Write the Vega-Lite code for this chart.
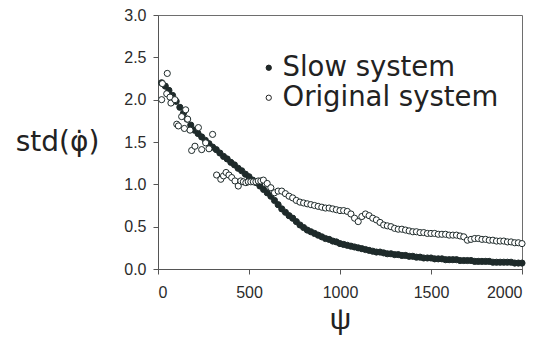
{
  "$schema": "https://vega.github.io/schema/vega-lite/v6.json",
  "autosize": "none",
  "width": 364,
  "height": 254,
  "padding": {"left": 158, "top": 15, "right": 20, "bottom": 71},
  "background": "white",
  "config": {
    "view": {"stroke": "#6e6e6e", "strokeWidth": 1},
    "axis": {
      "grid": false,
      "domainColor": "#555555",
      "tickColor": "#555555",
      "tickSize": 5,
      "labelFont": "Liberation Sans",
      "labelFontSize": 16,
      "labelColor": "#2b2b2b",
      "titleFont": "Liberation Sans",
      "titleFontWeight": "normal",
      "titleColor": "#222222"
    }
  },
  "datasets": {
    "runs": [
      {"psi": 20, "std": 2.20, "series": "Slow system"},
      {"psi": 40, "std": 2.16, "series": "Slow system"},
      {"psi": 60, "std": 2.11, "series": "Slow system"},
      {"psi": 80, "std": 2.05, "series": "Slow system"},
      {"psi": 100, "std": 1.98, "series": "Slow system"},
      {"psi": 120, "std": 1.91, "series": "Slow system"},
      {"psi": 140, "std": 1.84, "series": "Slow system"},
      {"psi": 160, "std": 1.77, "series": "Slow system"},
      {"psi": 180, "std": 1.70, "series": "Slow system"},
      {"psi": 200, "std": 1.64, "series": "Slow system"},
      {"psi": 220, "std": 1.60, "series": "Slow system"},
      {"psi": 240, "std": 1.56, "series": "Slow system"},
      {"psi": 260, "std": 1.52, "series": "Slow system"},
      {"psi": 280, "std": 1.48, "series": "Slow system"},
      {"psi": 300, "std": 1.44, "series": "Slow system"},
      {"psi": 320, "std": 1.41, "series": "Slow system"},
      {"psi": 340, "std": 1.37, "series": "Slow system"},
      {"psi": 360, "std": 1.33, "series": "Slow system"},
      {"psi": 380, "std": 1.30, "series": "Slow system"},
      {"psi": 400, "std": 1.26, "series": "Slow system"},
      {"psi": 420, "std": 1.23, "series": "Slow system"},
      {"psi": 440, "std": 1.19, "series": "Slow system"},
      {"psi": 460, "std": 1.16, "series": "Slow system"},
      {"psi": 480, "std": 1.12, "series": "Slow system"},
      {"psi": 500, "std": 1.09, "series": "Slow system"},
      {"psi": 520, "std": 1.05, "series": "Slow system"},
      {"psi": 540, "std": 1.02, "series": "Slow system"},
      {"psi": 560, "std": 0.98, "series": "Slow system"},
      {"psi": 580, "std": 0.94, "series": "Slow system"},
      {"psi": 600, "std": 0.90, "series": "Slow system"},
      {"psi": 620, "std": 0.86, "series": "Slow system"},
      {"psi": 640, "std": 0.81, "series": "Slow system"},
      {"psi": 660, "std": 0.76, "series": "Slow system"},
      {"psi": 680, "std": 0.71, "series": "Slow system"},
      {"psi": 700, "std": 0.67, "series": "Slow system"},
      {"psi": 720, "std": 0.63, "series": "Slow system"},
      {"psi": 740, "std": 0.60, "series": "Slow system"},
      {"psi": 760, "std": 0.56, "series": "Slow system"},
      {"psi": 780, "std": 0.52, "series": "Slow system"},
      {"psi": 800, "std": 0.49, "series": "Slow system"},
      {"psi": 820, "std": 0.46, "series": "Slow system"},
      {"psi": 840, "std": 0.44, "series": "Slow system"},
      {"psi": 860, "std": 0.42, "series": "Slow system"},
      {"psi": 880, "std": 0.40, "series": "Slow system"},
      {"psi": 900, "std": 0.38, "series": "Slow system"},
      {"psi": 920, "std": 0.36, "series": "Slow system"},
      {"psi": 940, "std": 0.35, "series": "Slow system"},
      {"psi": 960, "std": 0.33, "series": "Slow system"},
      {"psi": 980, "std": 0.32, "series": "Slow system"},
      {"psi": 1000, "std": 0.30, "series": "Slow system"},
      {"psi": 1020, "std": 0.29, "series": "Slow system"},
      {"psi": 1040, "std": 0.28, "series": "Slow system"},
      {"psi": 1060, "std": 0.27, "series": "Slow system"},
      {"psi": 1080, "std": 0.26, "series": "Slow system"},
      {"psi": 1100, "std": 0.25, "series": "Slow system"},
      {"psi": 1120, "std": 0.24, "series": "Slow system"},
      {"psi": 1140, "std": 0.23, "series": "Slow system"},
      {"psi": 1160, "std": 0.22, "series": "Slow system"},
      {"psi": 1180, "std": 0.21, "series": "Slow system"},
      {"psi": 1200, "std": 0.20, "series": "Slow system"},
      {"psi": 1220, "std": 0.20, "series": "Slow system"},
      {"psi": 1240, "std": 0.19, "series": "Slow system"},
      {"psi": 1260, "std": 0.18, "series": "Slow system"},
      {"psi": 1280, "std": 0.18, "series": "Slow system"},
      {"psi": 1300, "std": 0.17, "series": "Slow system"},
      {"psi": 1320, "std": 0.17, "series": "Slow system"},
      {"psi": 1340, "std": 0.16, "series": "Slow system"},
      {"psi": 1360, "std": 0.16, "series": "Slow system"},
      {"psi": 1380, "std": 0.15, "series": "Slow system"},
      {"psi": 1400, "std": 0.15, "series": "Slow system"},
      {"psi": 1420, "std": 0.14, "series": "Slow system"},
      {"psi": 1440, "std": 0.14, "series": "Slow system"},
      {"psi": 1460, "std": 0.13, "series": "Slow system"},
      {"psi": 1480, "std": 0.13, "series": "Slow system"},
      {"psi": 1500, "std": 0.13, "series": "Slow system"},
      {"psi": 1520, "std": 0.12, "series": "Slow system"},
      {"psi": 1540, "std": 0.12, "series": "Slow system"},
      {"psi": 1560, "std": 0.12, "series": "Slow system"},
      {"psi": 1580, "std": 0.11, "series": "Slow system"},
      {"psi": 1600, "std": 0.11, "series": "Slow system"},
      {"psi": 1620, "std": 0.11, "series": "Slow system"},
      {"psi": 1640, "std": 0.11, "series": "Slow system"},
      {"psi": 1660, "std": 0.10, "series": "Slow system"},
      {"psi": 1680, "std": 0.10, "series": "Slow system"},
      {"psi": 1700, "std": 0.10, "series": "Slow system"},
      {"psi": 1720, "std": 0.10, "series": "Slow system"},
      {"psi": 1740, "std": 0.09, "series": "Slow system"},
      {"psi": 1760, "std": 0.09, "series": "Slow system"},
      {"psi": 1780, "std": 0.09, "series": "Slow system"},
      {"psi": 1800, "std": 0.09, "series": "Slow system"},
      {"psi": 1820, "std": 0.09, "series": "Slow system"},
      {"psi": 1840, "std": 0.08, "series": "Slow system"},
      {"psi": 1860, "std": 0.08, "series": "Slow system"},
      {"psi": 1880, "std": 0.08, "series": "Slow system"},
      {"psi": 1900, "std": 0.08, "series": "Slow system"},
      {"psi": 1920, "std": 0.08, "series": "Slow system"},
      {"psi": 1940, "std": 0.08, "series": "Slow system"},
      {"psi": 1960, "std": 0.07, "series": "Slow system"},
      {"psi": 1980, "std": 0.07, "series": "Slow system"},
      {"psi": 2000, "std": 0.07, "series": "Slow system"},

      {"psi": 20, "std": 2.00, "series": "Original system"},
      {"psi": 24, "std": 2.19, "series": "Original system"},
      {"psi": 48, "std": 2.07, "series": "Original system"},
      {"psi": 51, "std": 2.31, "series": "Original system"},
      {"psi": 66, "std": 2.03, "series": "Original system"},
      {"psi": 71, "std": 1.96, "series": "Original system"},
      {"psi": 93, "std": 2.00, "series": "Original system"},
      {"psi": 103, "std": 1.71, "series": "Original system"},
      {"psi": 112, "std": 1.69, "series": "Original system"},
      {"psi": 130, "std": 1.80, "series": "Original system"},
      {"psi": 145, "std": 1.66, "series": "Original system"},
      {"psi": 152, "std": 1.88, "series": "Original system"},
      {"psi": 163, "std": 1.77, "series": "Original system"},
      {"psi": 176, "std": 1.64, "series": "Original system"},
      {"psi": 185, "std": 1.40, "series": "Original system"},
      {"psi": 203, "std": 1.45, "series": "Original system"},
      {"psi": 222, "std": 1.67, "series": "Original system"},
      {"psi": 240, "std": 1.41, "series": "Original system"},
      {"psi": 262, "std": 1.49, "series": "Original system"},
      {"psi": 280, "std": 1.42, "series": "Original system"},
      {"psi": 300, "std": 1.59, "series": "Original system"},
      {"psi": 322, "std": 1.11, "series": "Original system"},
      {"psi": 345, "std": 1.06, "series": "Original system"},
      {"psi": 360, "std": 1.10, "series": "Original system"},
      {"psi": 374, "std": 1.14, "series": "Original system"},
      {"psi": 390, "std": 1.11, "series": "Original system"},
      {"psi": 405, "std": 1.08, "series": "Original system"},
      {"psi": 423, "std": 1.04, "series": "Original system"},
      {"psi": 441, "std": 0.98, "series": "Original system"},
      {"psi": 455, "std": 1.04, "series": "Original system"},
      {"psi": 469, "std": 1.03, "series": "Original system"},
      {"psi": 483, "std": 1.02, "series": "Original system"},
      {"psi": 496, "std": 1.03, "series": "Original system"},
      {"psi": 510, "std": 1.03, "series": "Original system"},
      {"psi": 524, "std": 1.03, "series": "Original system"},
      {"psi": 538, "std": 1.03, "series": "Original system"},
      {"psi": 551, "std": 1.04, "series": "Original system"},
      {"psi": 565, "std": 1.04, "series": "Original system"},
      {"psi": 579, "std": 1.05, "series": "Original system"},
      {"psi": 600, "std": 1.01, "series": "Original system"},
      {"psi": 620, "std": 0.96, "series": "Original system"},
      {"psi": 640, "std": 0.90, "series": "Original system"},
      {"psi": 660, "std": 0.92, "series": "Original system"},
      {"psi": 680, "std": 0.92, "series": "Original system"},
      {"psi": 700, "std": 0.89, "series": "Original system"},
      {"psi": 720, "std": 0.86, "series": "Original system"},
      {"psi": 740, "std": 0.84, "series": "Original system"},
      {"psi": 760, "std": 0.81, "series": "Original system"},
      {"psi": 780, "std": 0.79, "series": "Original system"},
      {"psi": 800, "std": 0.78, "series": "Original system"},
      {"psi": 820, "std": 0.77, "series": "Original system"},
      {"psi": 840, "std": 0.76, "series": "Original system"},
      {"psi": 860, "std": 0.75, "series": "Original system"},
      {"psi": 880, "std": 0.74, "series": "Original system"},
      {"psi": 900, "std": 0.73, "series": "Original system"},
      {"psi": 920, "std": 0.72, "series": "Original system"},
      {"psi": 940, "std": 0.72, "series": "Original system"},
      {"psi": 960, "std": 0.71, "series": "Original system"},
      {"psi": 980, "std": 0.70, "series": "Original system"},
      {"psi": 1000, "std": 0.69, "series": "Original system"},
      {"psi": 1020, "std": 0.69, "series": "Original system"},
      {"psi": 1040, "std": 0.68, "series": "Original system"},
      {"psi": 1060, "std": 0.65, "series": "Original system"},
      {"psi": 1080, "std": 0.60, "series": "Original system"},
      {"psi": 1100, "std": 0.56, "series": "Original system"},
      {"psi": 1120, "std": 0.62, "series": "Original system"},
      {"psi": 1140, "std": 0.65, "series": "Original system"},
      {"psi": 1160, "std": 0.63, "series": "Original system"},
      {"psi": 1180, "std": 0.60, "series": "Original system"},
      {"psi": 1200, "std": 0.58, "series": "Original system"},
      {"psi": 1220, "std": 0.55, "series": "Original system"},
      {"psi": 1240, "std": 0.52, "series": "Original system"},
      {"psi": 1260, "std": 0.51, "series": "Original system"},
      {"psi": 1280, "std": 0.50, "series": "Original system"},
      {"psi": 1300, "std": 0.48, "series": "Original system"},
      {"psi": 1320, "std": 0.47, "series": "Original system"},
      {"psi": 1340, "std": 0.47, "series": "Original system"},
      {"psi": 1360, "std": 0.46, "series": "Original system"},
      {"psi": 1380, "std": 0.45, "series": "Original system"},
      {"psi": 1400, "std": 0.44, "series": "Original system"},
      {"psi": 1420, "std": 0.44, "series": "Original system"},
      {"psi": 1440, "std": 0.43, "series": "Original system"},
      {"psi": 1460, "std": 0.43, "series": "Original system"},
      {"psi": 1480, "std": 0.42, "series": "Original system"},
      {"psi": 1500, "std": 0.42, "series": "Original system"},
      {"psi": 1520, "std": 0.42, "series": "Original system"},
      {"psi": 1540, "std": 0.41, "series": "Original system"},
      {"psi": 1560, "std": 0.41, "series": "Original system"},
      {"psi": 1580, "std": 0.41, "series": "Original system"},
      {"psi": 1600, "std": 0.40, "series": "Original system"},
      {"psi": 1620, "std": 0.40, "series": "Original system"},
      {"psi": 1640, "std": 0.40, "series": "Original system"},
      {"psi": 1660, "std": 0.39, "series": "Original system"},
      {"psi": 1680, "std": 0.38, "series": "Original system"},
      {"psi": 1700, "std": 0.34, "series": "Original system"},
      {"psi": 1720, "std": 0.35, "series": "Original system"},
      {"psi": 1740, "std": 0.36, "series": "Original system"},
      {"psi": 1760, "std": 0.36, "series": "Original system"},
      {"psi": 1780, "std": 0.35, "series": "Original system"},
      {"psi": 1800, "std": 0.35, "series": "Original system"},
      {"psi": 1820, "std": 0.34, "series": "Original system"},
      {"psi": 1840, "std": 0.34, "series": "Original system"},
      {"psi": 1860, "std": 0.33, "series": "Original system"},
      {"psi": 1880, "std": 0.33, "series": "Original system"},
      {"psi": 1900, "std": 0.33, "series": "Original system"},
      {"psi": 1920, "std": 0.32, "series": "Original system"},
      {"psi": 1940, "std": 0.32, "series": "Original system"},
      {"psi": 1960, "std": 0.31, "series": "Original system"},
      {"psi": 1980, "std": 0.31, "series": "Original system"},
      {"psi": 2000, "std": 0.30, "series": "Original system"}
    ]
  },
  "data": {"name": "runs"},
  "mark": {"type": "point", "shape": "circle", "filled": true, "size": 38, "stroke": "#1e2a2a", "strokeWidth": 1, "opacity": 1, "clip": false},
  "encoding": {
    "x": {
      "field": "psi",
      "type": "quantitative",
      "scale": {"domain": [0, 2000], "nice": false},
      "axis": {"values": [0, 500, 1000, 1500, 2000], "format": "d", "title": "ψ", "titleFontSize": 30, "titlePadding": 4, "labelPadding": 10}
    },
    "y": {
      "field": "std",
      "type": "quantitative",
      "scale": {"domain": [0, 3], "nice": false},
      "axis": {
        "values": [0, 0.5, 1, 1.5, 2, 2.5, 3],
        "format": ".1f",
        "labelPadding": 7,
        "title": "std(φ̇)",
        "titleFont": "DejaVu Sans",
        "titleFontSize": 28,
        "titleAngle": 0,
        "titleAlign": "center",
        "titleBaseline": "middle",
        "titleX": -101,
        "titleY": 127
      }
    },
    "fill": {
      "field": "series",
      "type": "nominal",
      "sort": null,
      "scale": {"domain": ["Slow system", "Original system"], "range": ["#1e2a2a", "#ffffff"]},
      "legend": {
        "title": null,
        "orient": "none",
        "legendX": 97,
        "legendY": 39,
        "padding": 0,
        "symbolType": "circle",
        "symbolSize": 28,
        "symbolStrokeColor": "#222222",
        "symbolStrokeWidth": 1,
        "symbolOffset": 0,
        "labelFont": "DejaVu Sans",
        "labelFontSize": 27.5,
        "labelColor": "#222222",
        "labelOffset": 0,
        "labelLimit": 0,
        "rowPadding": 1
      }
    },
    "order": {"field": "series", "sort": "descending"}
  }
}
